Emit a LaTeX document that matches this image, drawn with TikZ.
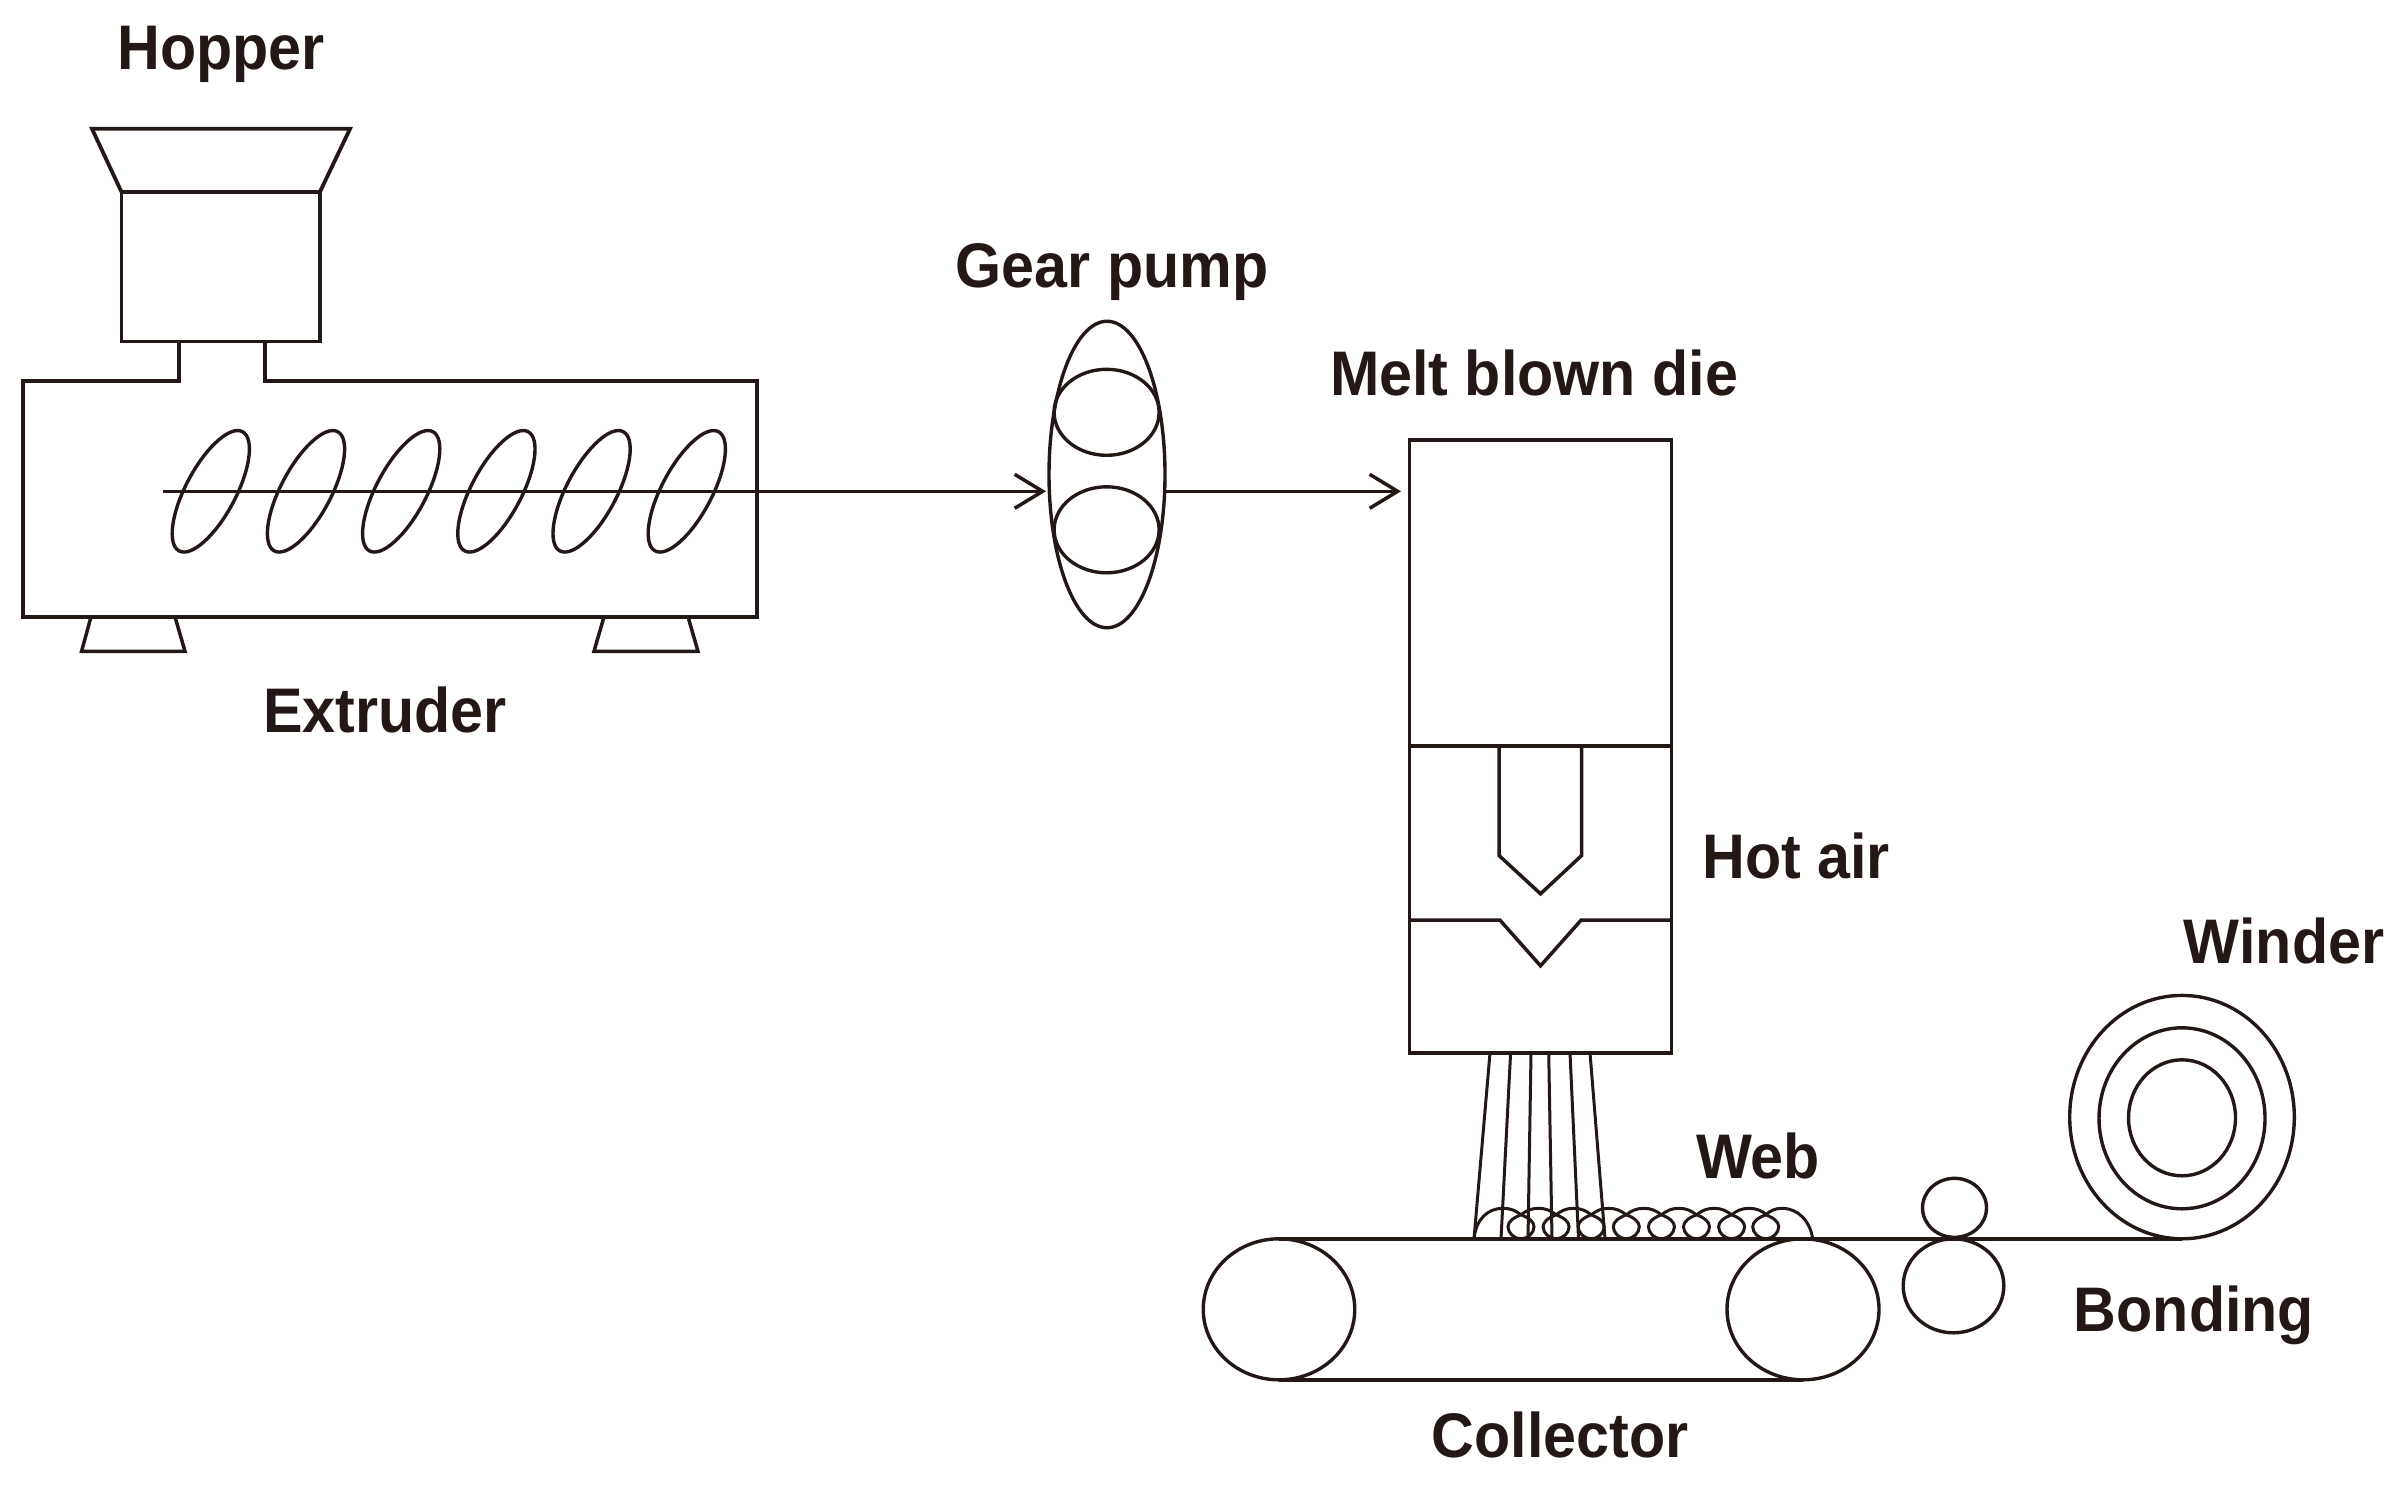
\documentclass[tikz,border=0pt]{standalone}
\usepackage{fontspec}
\setmainfont{Liberation Sans}[BoldFeatures={FakeStretch=0.94}]
\usetikzlibrary{shapes.geometric,arrows.meta}
\definecolor{ink}{HTML}{231815}
\tikzset{
  line/.style={draw=ink,line width=3.8pt,line join=miter},
  fine/.style={draw=ink,line width=3.5pt},
  web/.style={draw=ink,line width=3pt},
  oval/.style={ellipse,draw=ink,line width=3.4pt,inner sep=0pt,outer sep=0pt},
  box/.style={rectangle,draw=ink,line width=3.8pt,inner sep=0pt,outer sep=0pt},
  lab/.style={text=ink,font=\fontsize{63}{72}\selectfont\bfseries,anchor=base,inner sep=0pt},
  flow/.style={draw=ink,line width=3.5pt,-{Straight Barb[length=28pt,width=34pt,line width=3.5pt]}}
}
\begin{document}
\begin{tikzpicture}[x=1pt,y=-1pt]
\useasboundingbox (0,0) rectangle (2400,1486);
\begin{scope}[yshift=-0.8pt]
% hopper
\node[box,minimum width=198.6pt,minimum height=149.6pt] (hopbox) at (220.7,265.8) {};
\coordinate (hopTL) at (92,128);
\coordinate (hopTR) at (350,128);
\draw[line] (hopbox.north west) -- (hopTL) -- (hopTR) -- (hopbox.north east);
% extruder
\coordinate (neckL) at (179,340.6);
\coordinate (neckR) at (265,340.6);
\draw[line] (neckL) -- (179,380) -- (23,380) -- (23,616) -- (757,616) -- (757,380) -- (265,380) -- (neckR);
\draw[fine] (91,616) -- (81.6,650.5) -- (185,650.5) -- (175,616);
\draw[fine] (604,616) -- (594,650.5) -- (698,650.5) -- (688,616);
\foreach \i/\x in {1/210.8,2/306,3/401.2,4/496.4,5/591.6,6/686.8}
  \node[oval,minimum width=135pt,minimum height=50pt,rotate=62] (screw\i) at (\x,490.5) {};
% gear pump
\node[oval,minimum width=116pt,minimum height=306.5pt] (pump) at (1107,473.7) {};
\node[oval,minimum width=105pt,minimum height=86pt] (gearA) at (1106.6,411.5) {};
\node[oval,minimum width=105pt,minimum height=86pt] (gearB) at (1106.6,529) {};
% die
\node[box,minimum width=262pt,minimum height=612.6pt] (die) at (1540.4,745.7) {};
\coordinate (sepL) at (die.west |- 0,745);
\coordinate (sepR) at (die.east |- 0,745);
\draw[fine] (sepL) -- (sepR);
\draw[fine] (1499,745) -- (1499,854.7) -- (1540.5,893) -- (1581.6,854.7) -- (1581.6,745);
\draw[fine] (die.west |- 0,919.4) -- (1500,919.4) -- (1540.5,965) -- (1581,919.4) -- (die.east |- 0,919.4);
% flow
\coordinate (shaftStart) at (163,490.5);
\coordinate (pumpIn) at (1046,490.5);
\coordinate (pumpOut) at (1165,490.5);
\coordinate (dieIn) at (1401,490.5);
\draw[flow] (shaftStart) -- (pumpIn);
\draw[flow] (pumpOut) -- (dieIn);
% fibres
\foreach \a/\b in {1490/1474,1510.6/1501,1531/1528,1548.7/1552,1570/1578.5,1590/1605}
  \draw[web] (\a,1052) -- (\b,1238);
% collector
\node[oval,minimum width=151.5pt,minimum height=141pt] (rollL) at (1279,1308.5) {};
\node[oval,minimum width=152pt,minimum height=141pt] (rollR) at (1803,1308.5) {};
\draw[line] (rollL.south) -- (rollR.south);
% winder
\node[oval,minimum width=224.6pt,minimum height=243.4pt] (windA) at (2182,1116.3) {};
\node[oval,minimum width=166pt,minimum height=181pt] (windB) at (2182,1117.5) {};
\node[oval,minimum width=107pt,minimum height=116pt] (windC) at (2182,1117) {};
\draw[line] (rollL.north) -- (windA.south);
% nip rolls
\node[oval,minimum width=64pt,minimum height=59pt] (nipA) at (1954.5,1207) {};
\node[oval,minimum width=100.6pt,minimum height=94pt] (nipB) at (1953.5,1285) {};
% web
\draw[web] (1474,1238) .. controls (1476,1218) and (1488,1207.5) .. (1503,1207.5)
  .. controls (1511,1207.5) and (1516,1210) .. (1521,1214);
\foreach \c in {1521,1556.1,1591.2,1626.3,1661.4,1696.5,1731.6,1765.7} {
  \draw[web] (\c,1214) .. controls (\c+8,1217) and (\c+13,1221) .. (\c+13,1226)
    .. controls (\c+13,1232) and (\c+7,1238) .. (\c,1238)
    .. controls (\c-7,1238) and (\c-13,1232) .. (\c-13,1226)
    .. controls (\c-13,1221) and (\c-8,1217) .. (\c,1214);
}
\foreach \c in {1521,1556.1,1591.2,1626.3,1661.4,1696.5,1731.6}
  \draw[web] (\c,1214) .. controls (\c+5,1210) and (\c+10,1207.5) .. (\c+17.5,1207.5)
    .. controls (\c+25,1207.5) and (\c+30,1210) .. (\c+35.1,1214);
\draw[web] (1765.7,1214) .. controls (1770,1210) and (1775,1207.5) .. (1782,1207.5)
  .. controls (1798,1207.5) and (1810,1220) .. (1812.7,1238);
\end{scope}
% labels
\node[lab] (lHopper) at (221,69) {Hopper};
\node[lab] (lExtruder) at (385,732) {Extruder};
\node[lab] (lGear) at (1112,287) {Gear pump};
\node[lab] (lMelt) at (1534,395) {Melt blown die};
\node[lab] (lHot) at (1796,878) {Hot air};
\node[lab] (lWeb) at (1758,1178) {Web};
\node[lab] (lWinder) at (2284,963) {Winder};
\node[lab] (lBonding) at (2194,1331) {Bonding};
\node[lab] (lCollector) at (1560,1457) {Collector};
\end{tikzpicture}
\end{document}
